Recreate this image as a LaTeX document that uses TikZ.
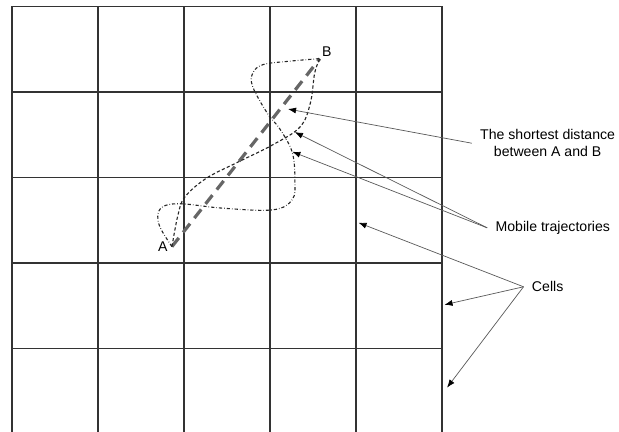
\documentclass[tikz,border=0pt]{standalone}
\usepackage{fontspec}
\setmainfont{Liberation Sans}
\usetikzlibrary{arrows.meta}

\begin{document}
\begin{tikzpicture}[x=1.5cm,y=1.491cm,
		cell/.style={line width=0.8pt,black!80},
		route/.style={line width=0.55pt,black!85},
		pointer/.style={line width=0.35pt,black!65,-{Latex[length=4pt,width=3pt,black]}},
		note/.style={font=\fontsize{7}{8.4}\selectfont,align=center,inner sep=4pt}]
		
		\useasboundingbox (-0.14,0.023) rectangle (7.06,5.076);
		
		% Cells
		\foreach \i in {0,...,5}
		\draw[cell] (\i,0.023) -- (\i,5);
		\foreach \j in {1,...,5}
		\draw[cell] (0,\j) -- (5,\j);
		
		% End points A and B
		\coordinate (A) at (1.86,2.19);
		\coordinate (B) at (3.58,4.39);
		\node[anchor=east,inner sep=2pt] (labA) at (A) {\fontsize{7}{8.4}\selectfont A};
		\node[anchor=south west,inner sep=1pt] (labB) at (B) {\fontsize{7}{8.4}\selectfont B};
		
		% Shortest distance (thick dashed)
		\draw[black!60,line width=1.6pt,dash pattern=on 5.5pt off 3.5pt] (A) -- (B);
		
		% Mobile trajectories
		\draw[route,dash pattern=on 1.6pt off 1.1pt] plot[smooth,tension=0.6] coordinates
		{(A) (1.93,2.56) (2.01,2.77) (2.26,2.99) (2.61,3.17) (3.03,3.38)
			(3.35,3.59) (3.47,3.87) (3.52,4.22) (B)};
		\draw[route,dash pattern=on 1.6pt off 1pt on 0.3pt off 1pt] plot[smooth,tension=0.6] coordinates
		{(A) (1.72,2.42) (1.70,2.58) (1.78,2.67) (1.99,2.69) (2.45,2.64)
			(3.03,2.62) (3.26,2.74) (3.29,2.97) (3.26,3.29) (3.12,3.56)
			(2.97,3.75) (2.80,4.06) (2.80,4.22) (2.92,4.32) (3.23,4.36) (B)};
		
		% Arrow tips
		\coordinate (tipD) at (3.21,3.80);
		\coordinate (tipM1) at (3.29,3.53);
		\coordinate (tipM2) at (3.26,3.30);
		\coordinate (tipC1) at (4.03,2.47);
		\coordinate (tipC2) at (5.03,1.51);
		\coordinate (tipC3) at (5.06,0.54);
		
		% Labels
		\node[note] (dist) at (6.23,3.40) {The shortest distance\\between A and B};
		\node[note] (mob) at (6.29,2.41) {Mobile trajectories};
		\node[note] (cells) at (6.23,1.72) {Cells};
		
		\draw[pointer] (dist.west) -- (tipD);
		\draw[pointer] (mob.west) -- (tipM1);
		\draw[pointer] (mob.west) -- (tipM2);
		\draw[pointer] (cells.west) -- (tipC1);
		\draw[pointer] (cells.west) -- (tipC2);
		\draw[pointer] (cells.west) -- (tipC3);
		
	\end{tikzpicture}
\end{document}
